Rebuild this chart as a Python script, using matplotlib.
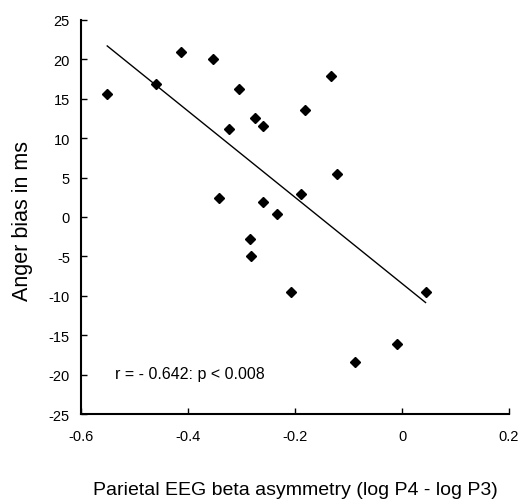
import numpy as np
import matplotlib.pyplot as plt

plt.rcParams['font.family'] = ['Liberation Sans', 'DejaVu Sans']
plt.rcParams['axes.unicode_minus'] = False

# asymmetry (log P4 - log P3) vs anger bias (ms)
asym = [-0.551, -0.460, -0.413, -0.353, -0.304, -0.274, -0.323, -0.342, -0.285,
        -0.133, -0.181, -0.259, -0.121, -0.189, -0.259, -0.234, -0.283,
        -0.207, 0.044, -0.010, -0.087]
bias = [15.6, 16.9, 20.9, 20.0, 16.2, 12.6, 11.1, 2.45, -2.8,
        17.9, 13.6, 11.6, 5.5, 2.96, 1.94, 0.38, -4.9,
        -9.5, -9.5, -16.1, -18.4]

xticks = [-0.6, -0.4, -0.2, 0, 0.2]
xticklabels = ['-0.6', '-0.4', '-0.2', '0', '0.2']
yticks = list(range(-25, 30, 5))

fig = plt.figure(figsize=(5.21, 5.02), dpi=100)
ax = fig.add_axes([0.1555, 0.1733, 0.8215, 0.785])

ax.plot(asym, bias, 'kD', markersize=4.8, zorder=3)

# least-squares line over the data range
slope, icpt = np.polyfit(asym, bias, 1)
xl = np.array([min(asym), max(asym)])
ax.plot(xl, slope * xl + icpt, 'k-', linewidth=1.0)

ax.text(-0.536, -19.8, 'r = - 0.642: p < 0.008', fontsize=11.5, va='center')

ax.set_xlim(-0.6, 0.2)
ax.set_ylim(-25, 25)
ax.set_xticks(xticks)
ax.set_xticklabels(xticklabels)
ax.set_yticks(yticks)
ax.tick_params(direction='in', length=4, width=1, labelsize=10.5)
ax.tick_params(axis='x', pad=11)
ax.tick_params(axis='y', pad=8)
for s in ['top', 'right']:
    ax.spines[s].set_visible(False)
for s in ['left', 'bottom']:
    ax.spines[s].set_linewidth(1.5)

ax.set_xlabel('Parietal EEG beta asymmetry (log P4 - log P3)', fontsize=14)
ax.set_ylabel('Anger bias in ms', fontsize=15.5)
ax.xaxis.set_label_coords(0.5, -0.17)
ax.yaxis.set_label_coords(-0.112, 0.492)

fig.savefig('out.png', dpi=100)
